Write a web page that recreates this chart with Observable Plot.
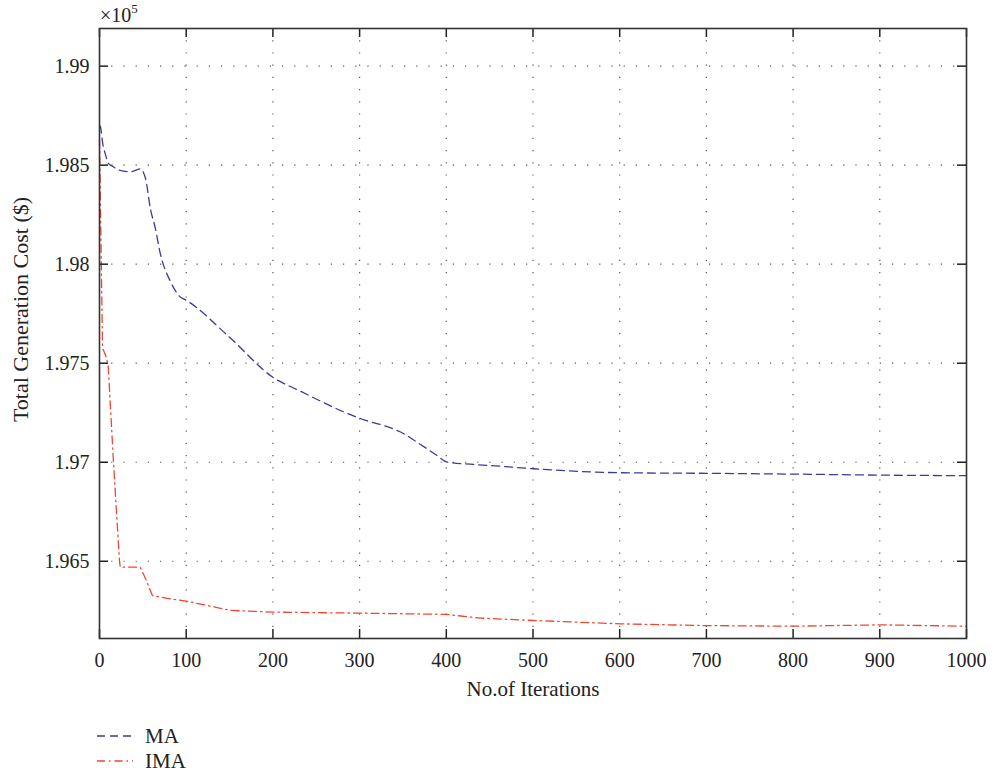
<!DOCTYPE html>
<html>
<head>
<meta charset="utf-8">
<script src="https://cdn.jsdelivr.net/npm/d3@7"></script>
<script src="https://cdn.jsdelivr.net/npm/@observablehq/plot@0.6"></script>
<style>
  html, body { margin: 0; padding: 0; background: #fff; }
  #chart { width: 1001px; }
  svg { display: block; }
</style>
</head>
<body>
<div id="chart"></div>
<script>
// ---- data (cost in units of 1e5 $) ----
const iterMA = [0, 1, 4, 7, 10, 16, 22, 36, 47, 53, 59, 64, 70, 82, 93, 100, 150, 200, 232, 303, 336, 351, 366, 389, 401, 431, 462, 501, 601, 701, 801, 901, 1000];
const costMA = [1.98700, 1.98695, 1.98602, 1.98552, 1.98511, 1.98492, 1.98476, 1.98467, 1.98481, 1.98434, 1.98273, 1.98189, 1.98056, 1.97911, 1.97835, 1.97818, 1.97631, 1.97429, 1.97358, 1.97217, 1.97173, 1.97144, 1.97102, 1.97035, 1.97001, 1.96989, 1.96980, 1.96967, 1.96947, 1.96944, 1.96940, 1.96935, 1.96932];
const iterIMA = [0, 3.5, 7, 10, 16, 23, 24, 47, 53, 61, 78, 100, 151, 201, 301, 399, 439, 501, 601, 701, 801, 901, 1000];
const costIMA = [1.98630, 1.97576, 1.97540, 1.97490, 1.97010, 1.96504, 1.96470, 1.96470, 1.96413, 1.96327, 1.96313, 1.96299, 1.96252, 1.96243, 1.96238, 1.96232, 1.96213, 1.96201, 1.96184, 1.96175, 1.96172, 1.96179, 1.96172];
const xTicks = [0, 100, 200, 300, 400, 500, 600, 700, 800, 900, 1000];
const yTicks = [1.965, 1.97, 1.975, 1.98, 1.985, 1.99];
const seriesNames = ["MA", "IMA"];
const seriesColors = ["#3a3a9c", "#ee4630"];
const seriesDash = ["8,5", "8,4,1.5,4"];

const ma = iterMA.map((x, i) => ({x, y: costMA[i]}));
const ima = iterIMA.map((x, i) => ({x, y: costIMA[i]}));

const W = 1001, H = 710;
const mt = 28, mb = 72, ml = 99, mr = 35;
const plotW = W - ml - mr, plotH = H - mt - mb;
const tk = 9;
const font = "'Liberation Serif', 'DejaVu Serif', serif";
const gridX = xTicks.filter(d => d > 0 && d < 1000);

const chart = Plot.plot({
  width: W, height: H,
  marginTop: mt, marginBottom: mb, marginLeft: ml, marginRight: mr,
  style: {fontFamily: font, fontSize: "20px", color: "#222", background: "#fff"},
  x: {domain: [0, 1000]},
  y: {domain: [1.9611, 1.9919]},
  marks: [
    Plot.gridX(gridX, {stroke: "#555", strokeOpacity: 1, strokeWidth: 1.2, strokeDasharray: "1.2,11"}),
    Plot.gridY(yTicks, {stroke: "#555", strokeOpacity: 1, strokeWidth: 1.2, strokeDasharray: "1.2,11"}),
    Plot.line(ma, {x: "x", y: "y", stroke: seriesColors[0], strokeWidth: 1.3, strokeDasharray: seriesDash[0], curve: "monotone-x"}),
    Plot.line(ima, {x: "x", y: "y", stroke: seriesColors[1], strokeWidth: 1.3, strokeDasharray: seriesDash[1]}),
    // inward ticks on all four sides
    Plot.tickX(xTicks, {x: d => d, stroke: "#222", strokeWidth: 1.5, insetTop: plotH - tk}),
    Plot.tickX(xTicks, {x: d => d, stroke: "#222", strokeWidth: 1.5, insetBottom: plotH - tk}),
    Plot.tickY(yTicks, {y: d => d, stroke: "#222", strokeWidth: 1.5, insetRight: plotW - tk}),
    Plot.tickY(yTicks, {y: d => d, stroke: "#222", strokeWidth: 1.5, insetLeft: plotW - tk}),
    Plot.axisX(xTicks, {tickSize: 0, tickPadding: 14, fontSize: 20, label: null, tickFormat: d => String(d)}),
    Plot.axisY(yTicks, {tickSize: 0, tickPadding: 10, fontSize: 20, label: null, tickFormat: d => String(+d.toFixed(3))}),
    Plot.frame({stroke: "#333", strokeWidth: 1.6}),
    Plot.text(["No.of Iterations"], {frameAnchor: "bottom", dy: 57, fontSize: 21, fill: "#222"}),
    Plot.text(["Total Generation Cost ($)"], {frameAnchor: "left", textAnchor: "middle", rotate: -90, dx: -79, dy: -24, fontSize: 22, fill: "#222"})
  ]
});

// ×10^5 exponent label
const svg = d3.select(chart);
const ex = svg.append("text")
  .attr("x", ml + 1).attr("y", 22).attr("text-anchor", "start")
  .attr("font-family", font).attr("font-size", 20).attr("fill", "#222");
ex.append("tspan").text("×10");
ex.append("tspan").attr("font-size", 13).attr("dy", -9).text("5");

document.getElementById("chart").appendChild(chart);

// legend below
const leg = d3.select("#chart").append("svg").attr("width", W).attr("height", 64);
seriesNames.forEach((name, i) => {
  const y = 26 + i * 25;
  leg.append("line").attr("x1", 97).attr("x2", 133).attr("y1", y).attr("y2", y)
    .attr("stroke", seriesColors[i]).attr("stroke-width", 1.4).attr("stroke-dasharray", seriesDash[i]);
  leg.append("text").attr("x", 145).attr("y", y + 7).attr("font-family", font)
    .attr("font-size", 21).attr("fill", "#222").text(name);
});
</script>
</body>
</html>
